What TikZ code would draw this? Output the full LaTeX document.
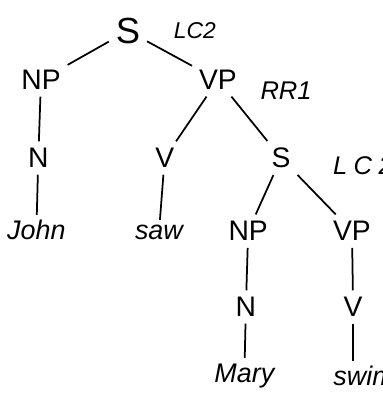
\documentclass[tikz,border=0pt]{standalone}
\usepackage{fontspec}
\setmainfont{Liberation Sans}

\tikzset{
	cat/.style={inner sep=5pt, font=\fontsize{21}{21}\selectfont},
	word/.style={inner sep=4pt, anchor=base, font=\fontsize{20}{20}\selectfont\itshape},
	rulelabel/.style={inner sep=0pt, font=\fontsize{17}{17}\selectfont\itshape},
	branch/.style={line width=1.3pt}
}

\begin{document}
\begin{tikzpicture}
		\useasboundingbox (0,0) rectangle (10,10.366);
		% top level
		\node[cat, font=\fontsize{27}{27}\selectfont] (s) at (3.34, 9.56) {S};
		\node[rulelabel] (lca) at (5.09, 9.56) {LC2};
		\node[cat] (np) at (1.07, 8.28) {NP};
		\node[cat] (vp) at (5.69, 8.28) {VP};
		\node[rulelabel, font=\fontsize{19}{19}\selectfont\itshape] (rr) at (7.47, 8.00) {RR1};
		\node[cat] (n) at (1.0, 6.24) {N};
		\node[cat] (v) at (4.30, 6.24) {V};
		\node[cat] (ss) at (7.34, 6.24) {S};
		\node[rulelabel, anchor=west, font=\fontsize{19}{19}\selectfont\itshape\addfontfeatures{LetterSpace=25}] (lcb) at (8.69, 6.04) {LC2};
		\node[word] (john) at (0.95, 4.10) {John};
		\node[word] (saw) at (4.15, 4.10) {saw};
		% embedded clause
		\node[cat] (npb) at (6.48, 4.33) {NP};
		\node[cat] (vpb) at (9.19, 4.33) {VP};
		\node[cat] (nb) at (6.42, 2.35) {N};
		\node[cat] (vb) at (9.22, 2.35) {V};
		\node[word] (mary) at (6.38, 0.39) {Mary};
		\node[word, anchor=base west] (swim) at (8.56, 0.29) {swim};
		\draw[branch] (s) -- (np);
		\draw[branch] (s) -- (vp);
		\draw[branch] (np) -- (n);
		\draw[branch] (n) -- (john);
		\draw[branch] (vp) -- (v);
		\draw[branch] (vp) -- (ss);
		\draw[branch] (v) -- (saw);
		\draw[branch] (ss) -- (npb);
		\draw[branch] (ss) -- (vpb);
		\draw[branch] (npb) -- (nb);
		\draw[branch] (nb) -- (mary);
		\draw[branch] (vpb) -- (vb);
		\draw[branch] (vb) -- (swim.north -| vb);
	\end{tikzpicture}
\end{document}
